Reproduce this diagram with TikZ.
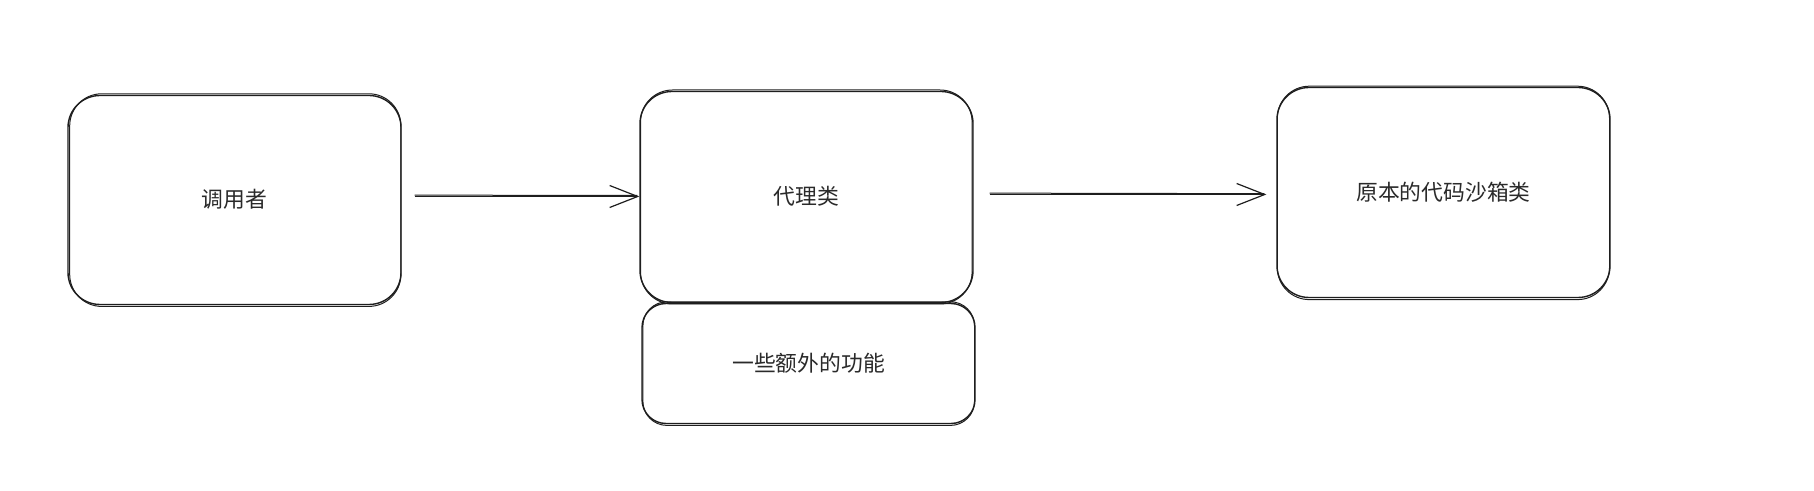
\documentclass[tikz,border=0pt]{standalone}
\usepackage{fontspec}
\newfontfamily\cjk{Noto Sans CJK SC}
\usetikzlibrary{arrows.meta,calc}
\definecolor{ink}{HTML}{1E1E1E}
\definecolor{txt}{HTML}{2A2A2A}
\newcommand{\lift}[1]{\raisebox{1.2pt}{#1}}
\tikzset{
  sbox/.style={draw=ink, line width=0.7pt, rounded corners=16pt, font=\cjk\fontsize{10.9}{13}\selectfont, text=txt, inner sep=0pt},
  sboxs/.style={sbox, rounded corners=12pt},
  echo/.style={draw=ink, line width=0.5pt},
  arr/.style={draw=ink, line width=0.6pt, -{Straight Barb[length=14pt,width=11pt,line width=0.6pt]}},
  arrb/.style={draw=ink, line width=0.5pt},
}
\begin{document}
\begin{tikzpicture}[x=0.5pt,y=-0.5pt]
\useasboundingbox (0,0) rectangle (1814,491);
\node[sbox, minimum width=166.5pt, minimum height=104.5pt] (a) at (234.5,200) {\lift{调用者}};
\node[sbox, minimum width=166.5pt, minimum height=105.5pt] (b) at (806.5,197) {\lift{代理类}};
\node[sboxs, minimum width=166.5pt, minimum height=60pt] (c) at (808.5,363.5) {\lift{一些额外的功能}};
\node[sbox, minimum width=166.5pt, minimum height=105pt] (d) at (1443.5,192.5) {\lift{原本的代码沙箱类}};
% sketchy second strokes
\draw[echo, rounded corners=16pt] ([shift={(1.2pt,-0.6pt)}]a.south west) rectangle ([shift={(-0.4pt,0.5pt)}]a.north east);
\draw[echo, rounded corners=16pt] ([shift={(0.6pt,-0.4pt)}]b.south west) rectangle ([shift={(-0.8pt,0.4pt)}]b.north east);
\draw[echo, rounded corners=12pt] ([shift={(0.8pt,-0.6pt)}]c.south west) rectangle ([shift={(-0.6pt,0.5pt)}]c.north east);
\draw[echo, rounded corners=16pt] ([shift={(0.5pt,-0.7pt)}]d.south west) rectangle ([shift={(-0.6pt,0.3pt)}]d.north east);
% connectors
\coordinate (y1) at (0,196.5);
\coordinate (y2) at (0,194.5);
\draw[arr, shorten <=6.5pt] (a.east |- y1) -- (b.west |- y1);
\draw[arrb, shorten <=6.5pt, shorten >=1pt] ([yshift=0.7pt]a.east |- y1) -- ([yshift=0.5pt]b.west |- y1);
\draw[arr, shorten <=8pt, shorten >=5pt] (b.east |- y2) -- (d.west |- y2);
\draw[arrb, shorten <=8pt, shorten >=6pt] ([yshift=0.7pt]b.east |- y2) -- ([yshift=0.4pt]d.west |- y2);
\end{tikzpicture}
\end{document}
